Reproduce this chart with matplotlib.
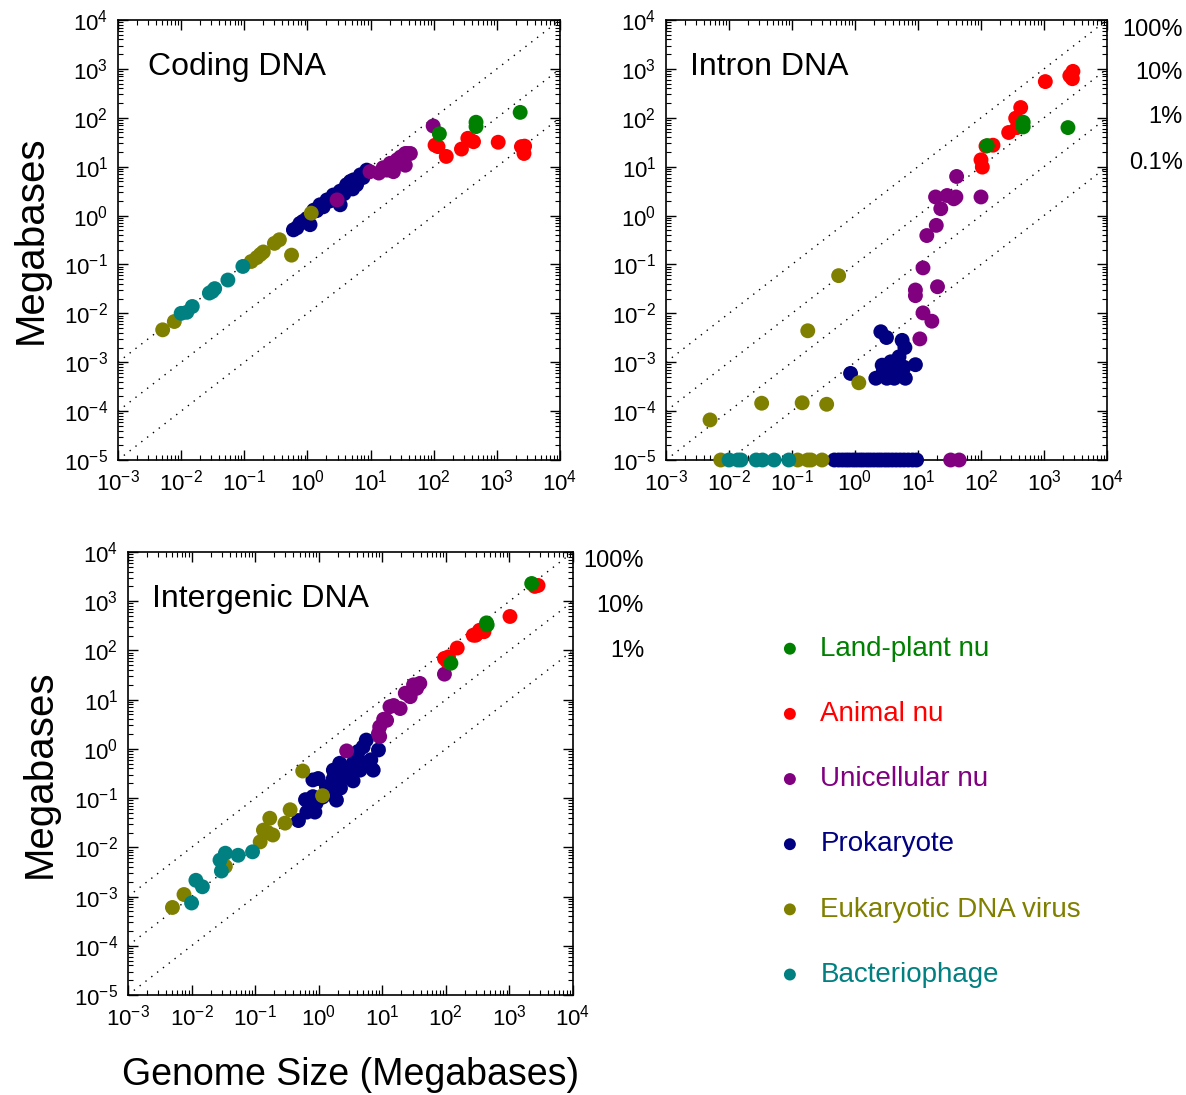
import matplotlib.pyplot as plt
import numpy as np
from matplotlib.ticker import LogLocator, FuncFormatter, NullFormatter

# fonts
plt.rcParams['font.family'] = ['Liberation Sans', 'DejaVu Sans']
plt.rcParams['mathtext.fontset'] = 'custom'
plt.rcParams['mathtext.rm'] = 'Liberation Sans'
plt.rcParams['mathtext.it'] = 'Liberation Sans'
plt.rcParams['mathtext.default'] = 'regular'

# categories (legend order) and colours
categories = ['Land-plant nu', 'Animal nu', 'Unicellular nu', 'Prokaryote',
              'Eukaryotic DNA virus', 'Bacteriophage']
colors = ['#008000', '#ff0000', '#800080', '#000080', '#808000', '#008080']
# drawing order, bottom to top (index into categories)
draw_order = [3, 4, 5, 2, 1, 0]

# ---- Coding DNA: genome size (Mb), coding DNA (Mb) ----
coding_plant_x = [123, 468, 468, 2340]
coding_plant_y = [47, 81, 66, 129]
coding_animal_x = [105, 117, 158, 275, 347, 427, 372, 1050, 2450, 2750, 2690]
coding_animal_y = [27.5, 25.7, 16.2, 22.9, 38, 32.4, 35.5, 31.6, 25.7, 26.3, 18.6]
coding_uni_x = [2.95, 9.8, 13.5, 18.2, 23, 20.4, 26.3, 33, 35.5, 38, 42.7, 35.5, 98, 15.8, 30]
coding_uni_y = [2.09, 7.9, 7.4, 8.5, 7.9, 11.7, 13.8, 11.7, 18.6, 18.6, 18.6, 10.7, 68, 9.5, 15.8]
coding_prok_x = [0.60, 0.76, 0.98, 1.26, 1.58, 2.04, 2.57, 3.3, 3.3, 4.17, 5.37, 6.0, 6.9, 8.7,
                 1.78, 1.10, 0.68, 2.3, 2.9, 3.7, 4.7, 7.6, 1.4, 0.85, 4.8, 3.8, 5.2]
coding_prok_y = [0.51, 0.69, 0.87, 1.29, 1.66, 2.09, 2.63, 1.66, 3.16, 4.27, 5.37, 4.27, 6.8, 8.5,
                 1.51, 0.65, 0.56, 2.0, 2.5, 3.2, 4.0, 6.0, 1.26, 0.76, 5.0, 2.8, 3.5]
coding_virus_x = [0.0051, 0.0078, 0.129, 0.158, 0.20, 0.18, 0.30, 0.36, 0.56, 1.15]
coding_virus_y = [0.0046, 0.0068, 0.115, 0.138, 0.18, 0.16, 0.27, 0.32, 0.155, 1.12]
coding_phage_x = [0.010, 0.0123, 0.015, 0.028, 0.034, 0.031, 0.055, 0.095]
coding_phage_y = [0.010, 0.0105, 0.0138, 0.026, 0.032, 0.028, 0.048, 0.091]

# ---- Intron DNA (1e-5 = none found, drawn on the axis) ----
intron_plant_x = [126, 468, 468, 2400]
intron_plant_y = [27, 81, 65, 63]
intron_animal_x = [105, 100, 120, 155, 275, 355, 427, 372, 1050, 2570, 2880, 2820]
intron_animal_y = [9.8, 13.8, 26.3, 27.5, 50, 98, 162, 63, 550, 724, 890, 630]
intron_uni_x = [41, 19, 29, 40, 23, 100, 19.5, 13.8, 12, 9.1, 9.1, 20.4, 12, 16.6, 10.7,
                37, 33, 45]
intron_uni_y = [6.3, 2.4, 2.57, 2.4, 1.38, 2.4, 0.63, 0.39, 0.085, 0.030, 0.023, 0.035,
                0.0102, 0.0069, 0.0030, 2.2, 1e-5, 1e-5]
intron_prok_x = [0.85, 2.57, 3.16, 5.6, 6.2, 9.1, 2.14, 2.7, 3.7, 5.0, 4.2, 6.3, 5.2, 3.2,
                 4.6, 6.0, 2.8, 3.8,
                 0.47, 0.55, 0.63, 0.72, 0.81, 0.93, 1.05, 1.2, 1.35, 1.55, 1.75, 2.0, 2.3,
                 2.6, 3.0, 3.4, 3.9, 4.5, 5.2, 6.0, 7.0, 8.2, 9.5]
intron_prok_y = [5.9e-4, 0.0042, 0.0032, 0.0028, 0.0020, 8.9e-4, 4.7e-4, 8.7e-4, 1.02e-3,
                 1.29e-3, 4.7e-4, 4.7e-4, 6.3e-4, 4.7e-4, 7.1e-4, 7.9e-4, 6.3e-4, 5.6e-4,
                 1e-5, 1e-5, 1e-5, 1e-5, 1e-5, 1e-5, 1e-5, 1e-5, 1e-5, 1e-5, 1e-5, 1e-5,
                 1e-5, 1e-5, 1e-5, 1e-5, 1e-5, 1e-5, 1e-5, 1e-5, 1e-5, 1e-5, 1e-5]
intron_virus_x = [0.0050, 0.033, 0.145, 0.355, 0.178, 1.15, 0.55,
                  0.0074, 0.123, 0.178, 0.20, 0.30]
intron_virus_y = [6.6e-5, 1.45e-4, 1.48e-4, 1.38e-4, 0.0044, 3.8e-4, 0.059,
                  1e-5, 1e-5, 1e-5, 1e-5, 1e-5]
intron_phage_x = [0.010, 0.0138, 0.0155, 0.027, 0.034, 0.052, 0.089]
intron_phage_y = [1e-5, 1e-5, 1e-5, 1e-5, 1e-5, 1e-5, 1e-5]

# ---- Intergenic DNA ----
inter_plant_x = [120, 447, 436, 2240]
inter_plant_y = [55, 331, 363, 2290]
inter_animal_x = [95, 110, 151, 270, 295, 339, 398, 1020, 2510, 2820, 316, 105]
inter_animal_y = [69, 74, 112, 204, 204, 257, 240, 490, 2000, 2090, 224, 60]
inter_uni_x = [2.75, 8.7, 9.1, 11.7, 13.2, 15.1, 19.1, 23, 27.5, 34.7, 39, 31, 95, 9.1, 10.5]
inter_uni_y = [0.91, 2.04, 2.8, 3.8, 7.2, 7.6, 6.6, 13.5, 11.5, 17, 21.4, 20, 33, 1.78, 4.0]
inter_prok_x = [0.48, 0.65, 0.81, 0.87, 0.81, 0.98, 1.9, 1.7, 1.7, 2.14, 2.75, 3.47, 4.0, 5.0,
                5.6, 6.6, 7.2, 8.7, 5.6, 1.32, 1.15, 2.04, 3.47, 4.47, 1.7, 0.62, 0.91, 1.48,
                2.5, 3.2, 2.2, 4.2]
inter_prok_y = [0.035, 0.052, 0.107, 0.052, 0.234, 0.25, 0.091, 0.17, 0.37, 0.51, 0.27, 0.51,
                0.69, 1.10, 0.51, 0.60, 0.37, 0.95, 1.51, 0.17, 0.105, 0.195, 0.224, 0.37,
                0.25, 0.093, 0.079, 0.123, 0.355, 0.40, 0.16, 0.89]
inter_virus_x = [0.0050, 0.0076, 0.034, 0.12, 0.135, 0.17, 0.19, 0.295, 0.355, 0.56, 1.15, 0.158]
inter_virus_y = [6.0e-4, 1.1e-3, 0.0041, 0.0129, 0.0224, 0.039, 0.0178, 0.031, 0.058, 0.355,
                 0.112, 0.020]
inter_phage_x = [0.010, 0.0117, 0.0148, 0.0295, 0.028, 0.034, 0.054, 0.091]
inter_phage_y = [7.4e-4, 0.00214, 0.00158, 0.0033, 0.0055, 0.0076, 0.0069, 0.0081]

# fraction lines per panel
coding_fracs = [1, 0.1, 0.01]
intron_fracs = [1, 0.1, 0.01, 0.001]
inter_fracs = [1, 0.1, 0.01]
intron_frac_labels = ['100%', '10%', '1%', '0.1%']
inter_frac_labels = ['100%', '10%', '1%']

coding = [(coding_plant_x, coding_plant_y), (coding_animal_x, coding_animal_y),
          (coding_uni_x, coding_uni_y), (coding_prok_x, coding_prok_y),
          (coding_virus_x, coding_virus_y), (coding_phage_x, coding_phage_y)]
intron = [(intron_plant_x, intron_plant_y), (intron_animal_x, intron_animal_y),
          (intron_uni_x, intron_uni_y), (intron_prok_x, intron_prok_y),
          (intron_virus_x, intron_virus_y), (intron_phage_x, intron_phage_y)]
inter = [(inter_plant_x, inter_plant_y), (inter_animal_x, inter_animal_y),
         (inter_uni_x, inter_uni_y), (inter_prok_x, inter_prok_y),
         (inter_virus_x, inter_virus_y), (inter_phage_x, inter_phage_y)]

fig = plt.figure(figsize=(11.86, 10.95), dpi=100)
W, H = 1186.0, 1095.0


def make_axes(left, top, right, bottom):
    """axes from pixel box"""
    return fig.add_axes([left / W, 1 - bottom / H, (right - left) / W, (bottom - top) / H])


def decade_fmt(v, pos):
    return r'$10^{%d}$' % int(round(np.log10(v)))


def draw_panel(ax, series, fracs, title, tx, clip=True):
    xs = np.logspace(-3, 4, 200)
    for f in fracs:
        ax.plot(xs, f * xs, color='black', lw=1.0, linestyle=(0, (1, 4.3)), zorder=1)
    handles = {}
    for i in draw_order:
        x, y = series[i]
        handles[i] = ax.scatter(x, y, s=115, color=colors[i], edgecolors='none',
                                zorder=3, clip_on=clip)
    ax.set_xscale('log')
    ax.set_yscale('log')
    ax.set_xlim(1e-3, 1e4)
    ax.set_ylim(1e-5, 1e4)
    ax.xaxis.set_major_locator(LogLocator(base=10, numticks=20))
    ax.yaxis.set_major_locator(LogLocator(base=10, numticks=20))
    ax.xaxis.set_minor_locator(LogLocator(base=10, subs=np.arange(2, 10), numticks=20))
    ax.yaxis.set_minor_locator(LogLocator(base=10, subs=np.arange(2, 10), numticks=20))
    ax.xaxis.set_major_formatter(FuncFormatter(decade_fmt))
    ax.yaxis.set_major_formatter(FuncFormatter(decade_fmt))
    ax.xaxis.set_minor_formatter(NullFormatter())
    ax.yaxis.set_minor_formatter(NullFormatter())
    ax.tick_params(which='both', direction='in', top=True, right=True, labelsize=16)
    ax.tick_params(which='major', length=7, width=1.0, pad=7)
    ax.tick_params(which='minor', length=3.5, width=0.8)
    for sp in ax.spines.values():
        sp.set_linewidth(1.2)
    ax.text(tx, 0.893, title, transform=ax.transAxes, fontsize=23,
            ha='left', va='center')
    return handles


ax1 = make_axes(118, 20, 560, 460)
h = draw_panel(ax1, coding, coding_fracs, 'Coding DNA', 0.067)
ax1.set_ylabel('Megabases', fontsize=29, labelpad=10)

ax2 = make_axes(666, 20, 1107, 460)
draw_panel(ax2, intron, intron_fracs, 'Intron DNA', 0.055, clip=False)

ax3 = make_axes(128, 552, 573, 995)
draw_panel(ax3, inter, inter_fracs, 'Intergenic DNA', 0.055)
ax3.set_ylabel('Megabases', fontsize=29, labelpad=11)
ax3.set_xlabel('Genome Size (Megabases)', fontsize=27, labelpad=19)

# percentage labels
for lab, yp in zip(intron_frac_labels, [30, 73, 117, 163]):
    fig.text(1183 / W, 1 - yp / H, lab, fontsize=17, ha='right', va='center')
for lab, yp in zip(inter_frac_labels, [561, 606, 651]):
    fig.text(644 / W, 1 - yp / H, lab, fontsize=17, ha='right', va='center')

# legend
leg = fig.legend([h[i] for i in range(len(categories))], categories,
                 loc='upper left', bbox_to_anchor=(776 / W, 1 - 636 / H),
                 frameon=False, fontsize=20, scatterpoints=1, markerscale=0.8,
                 handlelength=1.0, handletextpad=0.6, labelspacing=1.41,
                 borderpad=0, borderaxespad=0)
for txt, c in zip(leg.get_texts(), colors):
    txt.set_color(c)

fig.savefig('out.png', dpi=100)
